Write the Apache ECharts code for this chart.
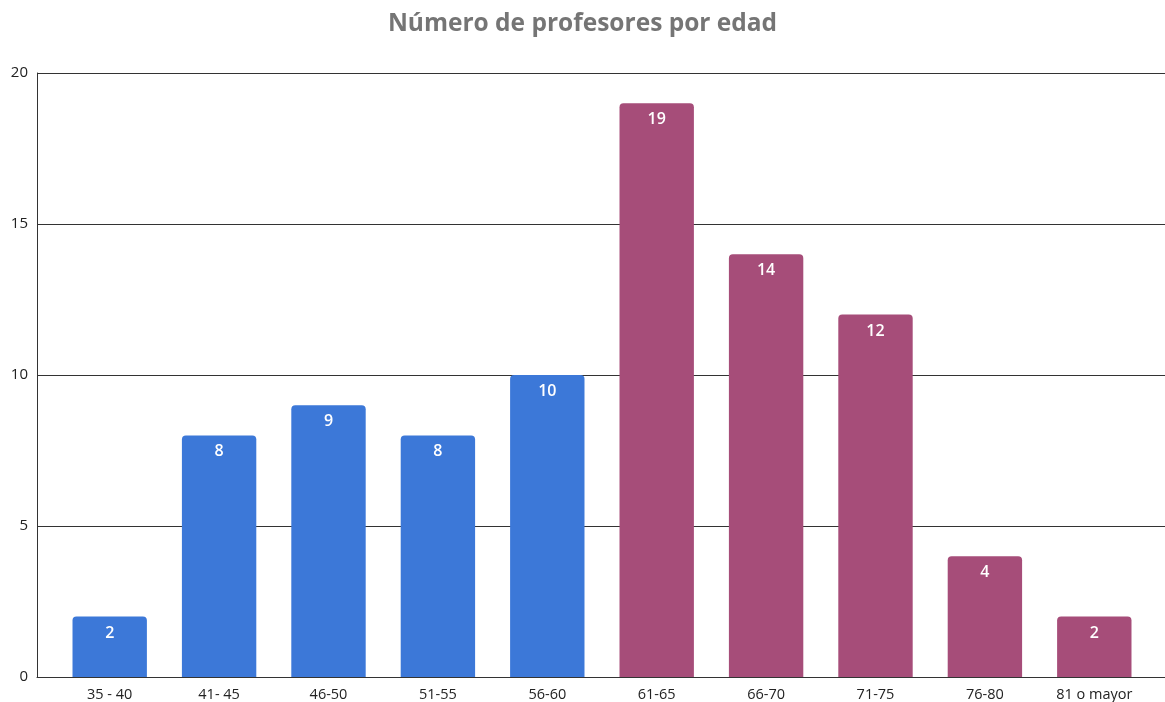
<!DOCTYPE html>
<html><head><meta charset="utf-8">
<script src="https://cdn.jsdelivr.net/npm/echarts@6/dist/echarts.min.js"></script>
<style>html,body{margin:0;padding:0;background:#fff}#c{width:1165px;height:702px}</style>
</head><body><div id="c"></div>
<script>
const categories = ['35 - 40','41- 45','46-50','51-55','56-60','61-65','66-70','71-75','76-80','81 o mayor'];
const values = [2,8,9,8,10,19,14,12,4,2];
const colors = ['#3c78d8','#3c78d8','#3c78d8','#3c78d8','#3c78d8','#a64d79','#a64d79','#a64d79','#a64d79','#a64d79'];
const yTicks = {min:0,max:20,interval:5};
const chart = echarts.init(document.getElementById('c'));
chart.setOption({
  animation:false,
  textStyle:{fontFamily:'Open Sans'},
  title:{text:'Número de profesores por edad',left:'center',top:7,
    textStyle:{fontFamily:'Open Sans',fontSize:24.5,fontWeight:'bold',color:'#757575'}},
  grid:[
    {left:37,right:0,top:73,bottom:25,containLabel:false},
    {left:55,right:16,top:73,bottom:25,containLabel:false}
  ],
  xAxis:[
    {type:'category',gridIndex:0,data:categories,
      axisLine:{lineStyle:{color:'#333',width:1}},axisTick:{show:false},axisLabel:{show:false}},
    {type:'category',gridIndex:1,data:categories,
      axisLine:{show:false},axisTick:{show:false},
      axisLabel:{color:'#222',fontSize:14.5,margin:10}}
  ],
  yAxis:[
    {type:'value',gridIndex:0,min:yTicks.min,max:yTicks.max,interval:yTicks.interval,
      axisLine:{show:true,lineStyle:{color:'#333'}},axisTick:{show:false},
      splitLine:{lineStyle:{color:'#333',width:1}},
      axisLabel:{color:'#222',fontSize:15,margin:9}},
    {type:'value',gridIndex:1,min:yTicks.min,max:yTicks.max,interval:yTicks.interval,
      show:false,splitLine:{show:false}}
  ],
  series:[{type:'bar',xAxisIndex:1,yAxisIndex:1,
    data:values.map((v,i)=>({value:v,itemStyle:{color:colors[i]}})),
    barCategoryGap:'32%',
    itemStyle:{borderRadius:[4,4,0,0]},
    label:{show:true,position:'insideTop',distance:8.5,color:'#fff',fontSize:16,fontWeight:600,fontFamily:'Open Sans'}}]
});
</script></body></html>
